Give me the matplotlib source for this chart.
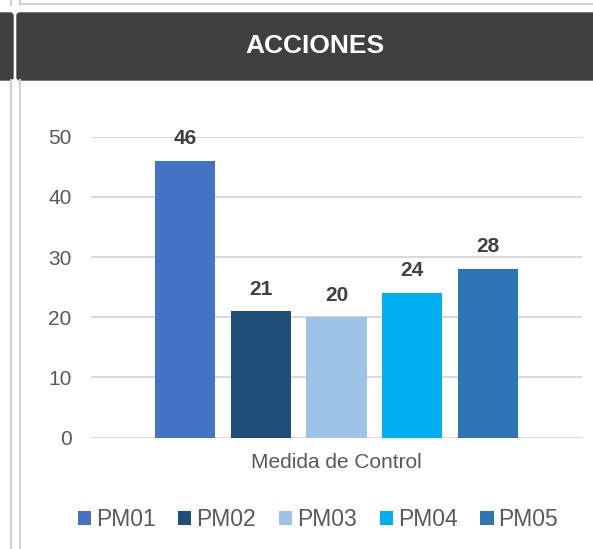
import matplotlib
matplotlib.use("Agg")
import matplotlib.pyplot as plt
from matplotlib.patches import Rectangle, FancyBboxPatch
from matplotlib.lines import Line2D

plt.rcParams['font.family'] = ['Liberation Sans', 'DejaVu Sans']

series = ["PM01", "PM02", "PM03", "PM04", "PM05"]
values = [46, 21, 20, 24, 28]
colors = ["#4472C4", "#1F4E79", "#9DC3E6", "#00B0F0", "#2E75B6"]
category = "Medida de Control"
title = "ACCIONES"

W, H = 593, 549
fig = plt.figure(figsize=(W / 100, H / 100), dpi=100)

def fx(px):
    return px / W

def fy(py):
    return 1 - py / H

# page decoration: frame lines and dark header band
for x in (11, 20):
    fig.add_artist(Line2D([fx(x), fx(x)], [fy(80), 0], color="#d0d0d0", lw=1.5))
    fig.add_artist(Line2D([fx(x), fx(x)], [1, fy(5)], color="#d0d0d0", lw=1.5))
fig.add_artist(Line2D([fx(20), 1], [fy(4), fy(4)], color="#d0d0d0", lw=1.5))
fig.add_artist(FancyBboxPatch((fx(-10), fy(80)), fx(23), fy(13) - fy(80),
                              boxstyle="round,pad=0,rounding_size=0.005",
                              transform=fig.transFigure, color="#404040"))
fig.add_artist(FancyBboxPatch((fx(17), fy(80)), fx(600), fy(13) - fy(80),
                              boxstyle="round,pad=0,rounding_size=0.005",
                              transform=fig.transFigure, color="#404040"))
fig.text(fx(315), fy(46), title, color="white", fontsize=19, fontweight="bold",
         ha="center", va="center")

ax = fig.add_axes([fx(91), fy(437.7), fx(491), (437.7 - 136.7) / H])
x = list(range(len(series)))
bars = ax.bar(x, values, width=0.795, color=colors, zorder=3)
for b, v in zip(bars, values):
    ax.annotate(str(v), (b.get_x() + b.get_width() / 2, v), xytext=(0, 16),
                textcoords="offset points", ha="center", va="center",
                fontsize=15, fontweight="bold", color="#404040")

ax.set_xlim(-1.25, 5.25)
ax.set_ylim(0, 50)
ax.set_yticks([0, 10, 20, 30, 40, 50])
ax.yaxis.grid(True, color="#d9d9d9", lw=1.5, zorder=0)
ax.set_xticks([])
ax.tick_params(axis="y", length=0, pad=14, labelsize=15, labelcolor="#595959")
for s in ax.spines.values():
    s.set_visible(False)

fig.text(fx(336), fy(463), category, fontsize=15, color="#595959",
         ha="center", va="center")

fig.legend(bars, series, loc="center", bbox_to_anchor=(fx(318), fy(520)), ncol=5,
           frameon=False, fontsize=16.5, handlelength=0.57, handleheight=0.57,
           handletextpad=0.22, columnspacing=1.0, labelcolor="#595959",
           borderaxespad=0, borderpad=0)

fig.savefig("out.png", dpi=100)
